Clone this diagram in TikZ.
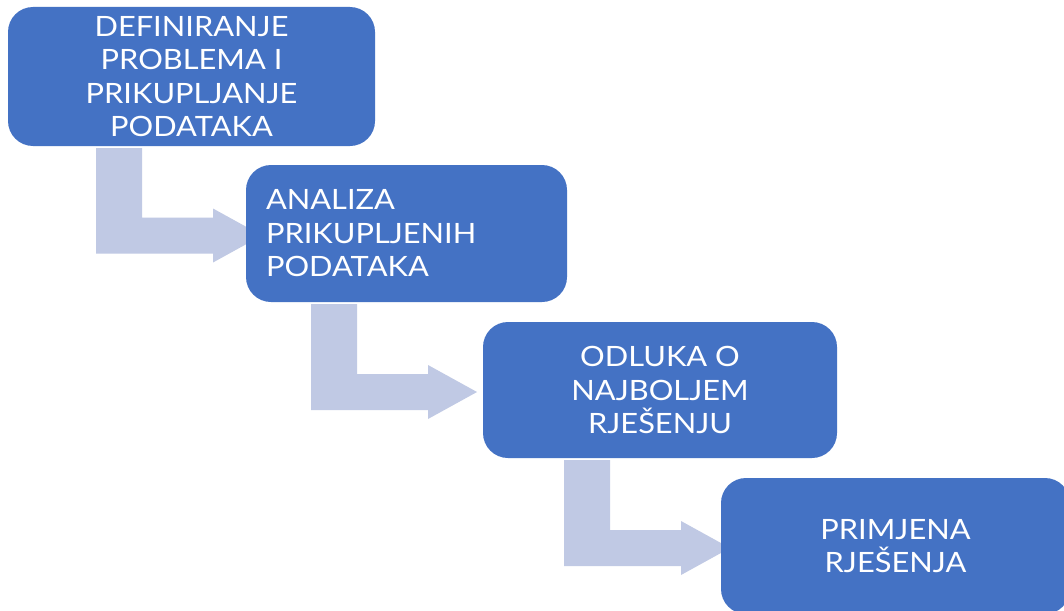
\documentclass[tikz,border=0pt]{standalone}
\usepackage{fontspec}
\newfontfamily\boxfont[FakeStretch=1.1]{Lato}
\usetikzlibrary{calc,backgrounds}

\definecolor{boxblue}{RGB}{68,114,196}
\definecolor{flowtint}{RGB}{192,201,228}

\tikzset{
  stage/.style={rectangle, rounded corners=25pt, fill=boxblue, text=white,
    inner sep=0pt, align=center,
    font=\boxfont\fontsize{28}{33.5}\selectfont},
  flow/.style={fill=flowtint}
}

% bent block arrow: leaves the bottom of box #1, turns right into box #2;
% #3 is the left edge of the vertical bar
\newcommand\bentflow[3]{%
  \fill[flow] let \p1=(#1.south), \p2=(#2.west) in
    ({#3pt},{\y1-2pt}) -- ({#3pt+46pt},{\y1-2pt}) --
    ({#3pt+46pt},{\y2+16pt}) -- ({#3pt+117pt},{\y2+16pt}) --
    ({#3pt+117pt},{\y2+25pt}) -- ({#3pt+166pt},{\y2-2pt}) --
    ({#3pt+117pt},{\y2-29pt}) -- ({#3pt+117pt},{\y2-20pt}) --
    ({#3pt},{\y2-20pt}) -- cycle;}

\begin{document}
\begin{tikzpicture}[x=1pt,y=-1pt]
  \useasboundingbox (0,0) rectangle (1064,610);
  \clip (0,0) rectangle (1064,610);

  \node[stage, minimum width=367pt, minimum height=139pt] (s1) at (191.5,76.5)
    {DEFINIRANJE\\PROBLEMA I\\PRIKUPLJANJE\\PODATAKA};
  \node[stage, minimum width=321pt, minimum height=137pt, text width=281pt, align=left]
    (s2) at (406.5,233.5) {ANALIZA\\PRIKUPLJENIH\\PODATAKA};
  \node[stage, minimum width=354pt, minimum height=136pt] (s3) at (660,390)
    {ODLUKA O\\NAJBOLJEM\\RJEŠENJU};
  \node[stage, minimum width=349pt, minimum height=136pt] (s4) at (895.5,546)
    {PRIMJENA\\RJEŠENJA};

  \begin{scope}[on background layer]
    \fill[white] (0,0) rectangle (1064,610);
    \bentflow{s1}{s2}{96}
    \bentflow{s2}{s3}{311}
    \bentflow{s3}{s4}{564}
  \end{scope}
\end{tikzpicture}
\end{document}
